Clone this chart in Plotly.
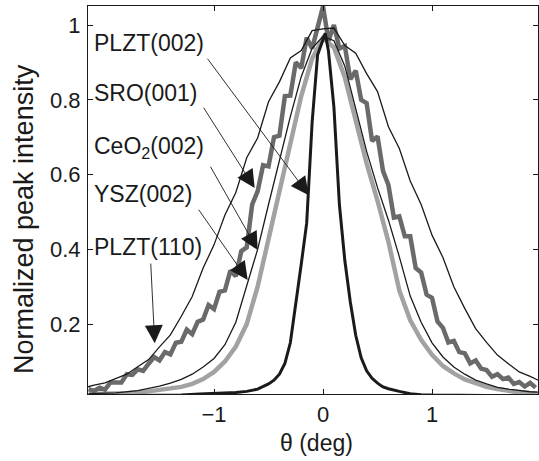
import plotly.graph_objects as go

# ---------------- data ----------------
theta_plzt110 = [-2.16, -2.1, -2.0, -1.9, -1.8, -1.7, -1.6, -1.5, -1.4, -1.3, -1.2, -1.1,
                 -1.0, -0.9, -0.8, -0.7, -0.6, -0.5, -0.4, -0.3, -0.2, -0.1, 0.0, 0.1,
                 0.2, 0.3, 0.4, 0.5, 0.6, 0.7, 0.8, 0.9, 1.0, 1.1, 1.2, 1.3, 1.4, 1.5,
                 1.6, 1.7, 1.8, 1.9, 1.98]
int_plzt110 = [0.032, 0.037, 0.043, 0.055, 0.066, 0.086, 0.105, 0.139, 0.171, 0.221, 0.274, 0.350,
               0.412, 0.492, 0.552, 0.645, 0.698, 0.795, 0.848, 0.912, 0.932, 0.985, 0.990, 0.992,
               0.945, 0.925, 0.870, 0.822, 0.728, 0.670, 0.583, 0.520, 0.438, 0.378, 0.300, 0.242,
               0.188, 0.151, 0.117, 0.094, 0.072, 0.060, 0.049]

theta_sro = [-2.15, -2.10, -2.05, -2.00, -1.95, -1.90, -1.85, -1.80, -1.75, -1.70, -1.65, -1.60,
             -1.55, -1.50, -1.45, -1.40, -1.35, -1.30, -1.25, -1.20, -1.15, -1.10, -1.05, -1.00,
             -0.95, -0.90, -0.85, -0.80, -0.75, -0.70, -0.65, -0.60, -0.55, -0.50, -0.45, -0.40,
             -0.35, -0.30, -0.25, -0.20, -0.15, -0.10, -0.05, 0.00, 0.05, 0.10, 0.15, 0.20,
             0.25, 0.30, 0.35, 0.40, 0.45, 0.50, 0.55, 0.60, 0.65, 0.70, 0.75, 0.80,
             0.85, 0.90, 0.95, 1.00, 1.05, 1.10, 1.15, 1.20, 1.25, 1.30, 1.35, 1.40,
             1.45, 1.50, 1.55, 1.60, 1.65, 1.70, 1.75, 1.80, 1.85, 1.90, 1.95]
int_sro = [0.026, 0.021, 0.030, 0.025, 0.044, 0.043, 0.044, 0.066, 0.064, 0.079, 0.075, 0.094,
           0.112, 0.103, 0.125, 0.119, 0.150, 0.153, 0.185, 0.173, 0.206, 0.212, 0.251, 0.240,
           0.286, 0.290, 0.343, 0.328, 0.395, 0.405, 0.520, 0.555, 0.625, 0.622, 0.700, 0.704,
           0.810, 0.811, 0.900, 0.885, 0.966, 0.937, 0.995, 1.050, 0.958, 1.000, 0.937, 0.944,
           0.855, 0.878, 0.800, 0.791, 0.690, 0.702, 0.610, 0.572, 0.485, 0.488, 0.435, 0.435,
           0.350, 0.338, 0.279, 0.270, 0.207, 0.190, 0.151, 0.155, 0.125, 0.122, 0.095, 0.103,
           0.081, 0.077, 0.059, 0.066, 0.053, 0.057, 0.040, 0.045, 0.033, 0.043, 0.030]

theta_ceo2 = [-2.15, -1.9, -1.7, -1.6, -1.5, -1.4, -1.3, -1.2, -1.1, -1.0, -0.9, -0.8,
              -0.7, -0.6, -0.5, -0.4, -0.3, -0.2, -0.1, 0.0, 0.1, 0.2, 0.3, 0.4,
              0.5, 0.6, 0.7, 0.8, 0.9, 1.0, 1.1, 1.2, 1.3, 1.4, 1.5, 1.6,
              1.7, 1.8, 1.9, 1.97]
int_ceo2 = [0.014, 0.016, 0.022, 0.027, 0.034, 0.042, 0.052, 0.066, 0.085, 0.108, 0.145, 0.205,
            0.300, 0.400, 0.520, 0.640, 0.755, 0.862, 0.938, 0.970, 0.958, 0.890, 0.772, 0.662,
            0.565, 0.478, 0.380, 0.275, 0.205, 0.150, 0.112, 0.085, 0.066, 0.050, 0.040, 0.031,
            0.026, 0.022, 0.019, 0.018]

theta_ysz = [-2.15, -1.9, -1.8, -1.6, -1.5, -1.4, -1.3, -1.2, -1.1, -1.0, -0.9, -0.8,
             -0.7, -0.6, -0.5, -0.4, -0.3, -0.2, -0.1, 0.0, 0.1, 0.2, 0.3, 0.4,
             0.5, 0.6, 0.7, 0.8, 0.9, 1.0, 1.1, 1.2, 1.3, 1.4, 1.5, 1.6,
             1.7, 1.8, 1.9, 1.97]
int_ysz = [0.013, 0.013, 0.015, 0.020, 0.023, 0.027, 0.032, 0.040, 0.053, 0.072, 0.100, 0.140,
           0.200, 0.300, 0.430, 0.550, 0.680, 0.810, 0.910, 0.965, 0.940, 0.860, 0.745, 0.630,
           0.530, 0.420, 0.290, 0.210, 0.158, 0.118, 0.088, 0.068, 0.052, 0.041, 0.032, 0.026,
           0.021, 0.017, 0.015, 0.014]

theta_plzt002 = [-2.15, -1.3, -1.13, -1.0, -0.8, -0.7, -0.6, -0.5, -0.45, -0.4, -0.35, -0.3,
                 -0.25, -0.2, -0.15, -0.1, -0.05, 0.0, 0.02, 0.05, 0.1, 0.15, 0.2, 0.25,
                 0.3, 0.35, 0.4, 0.45, 0.5, 0.55, 0.6, 0.7, 0.8, 0.9, 1.0, 1.97]
int_plzt002 = [0.008, 0.010, 0.013, 0.014, 0.017, 0.020, 0.026, 0.040, 0.050, 0.066, 0.095, 0.150,
               0.250, 0.360, 0.470, 0.740, 0.920, 0.960, 0.978, 0.930, 0.780, 0.520, 0.370, 0.260,
               0.170, 0.110, 0.075, 0.055, 0.042, 0.032, 0.027, 0.020, 0.014, 0.011, 0.010, 0.008]

x_ticks = [-1, 0, 1]
x_tick_labels = ["\u22121", "0", "1"]
y_ticks = [0.2, 0.4, 0.6, 0.8, 1.0]
y_tick_labels = ["0.2", "0.4", "0.6", "0.8", "1"]

# ---------------- figure ----------------
FONT = "Liberation Sans, Arial, Helvetica, sans-serif"
INK = "#1a1a1a"

fig = go.Figure()
fig.add_trace(go.Scatter(x=theta_ysz, y=int_ysz, mode="lines", name="YSZ(002)",
                         line=dict(color="#a2a2a2", width=4.5)))
fig.add_trace(go.Scatter(x=theta_sro, y=int_sro, mode="lines", name="SRO(001)",
                         line=dict(color="#6a6a6a", width=4.5)))
fig.add_trace(go.Scatter(x=theta_plzt110, y=int_plzt110, mode="lines", name="PLZT(110)",
                         line=dict(color=INK, width=1.3)))
fig.add_trace(go.Scatter(x=theta_ceo2, y=int_ceo2, mode="lines", name="CeO2(002)",
                         line=dict(color=INK, width=1.3)))
fig.add_trace(go.Scatter(x=theta_plzt002, y=int_plzt002, mode="lines", name="PLZT(002)",
                         line=dict(color=INK, width=3)))

# labels
labels = [
    ("PLZT(002)", 0.951),
    ("SRO(001)", 0.819),
    ("CeO<sub>2</sub>(002)", 0.672),
    ("YSZ(002)", 0.548),
    ("PLZT(110)", 0.405),
]
for txt, yy in labels:
    fig.add_annotation(x=-2.115, y=yy, xref="x", yref="y", text=txt, showarrow=False,
                       xanchor="left", yanchor="middle",
                       font=dict(family=FONT, size=23, color=INK))

# arrows: (tail_x, tail_y, head_x, head_y)
arrows = [
    (-1.07, 0.914, -0.131, 0.545),
    (-1.104, 0.783, -0.627, 0.564),
    (-1.04, 0.625, -0.599, 0.398),
    (-1.15, 0.51, -0.691, 0.318),
    (-1.581, 0.366, -1.544, 0.149),
]
for tx, ty, hx, hy in arrows:
    fig.add_annotation(x=hx, y=hy, ax=tx, ay=ty, xref="x", yref="y", axref="x", ayref="y",
                       text="", showarrow=True, arrowhead=2, arrowsize=4,
                       arrowwidth=0.9, arrowcolor=INK, standoff=0, startstandoff=0)

# axis titles as annotations
fig.add_annotation(x=(316.5 - 88) / 450, y=(394 - 443) / 388, xref="paper", yref="paper",
                   text="\u03b8 (deg)", showarrow=False, xanchor="center", yanchor="middle",
                   font=dict(family=FONT, size=23, color=INK))
fig.add_annotation(x=(24 - 88) / 450, y=(394 - 219) / 388, xref="paper", yref="paper",
                   text="Normalized peak intensity", showarrow=False, textangle=-90,
                   xanchor="center", yanchor="middle",
                   font=dict(family=FONT, size=27, color=INK))

axis_common = dict(showgrid=False, zeroline=False, showline=True, linecolor=INK, linewidth=1.2,
                   mirror="ticks", ticks="inside", ticklen=5, tickwidth=1, tickcolor=INK,
                   tickfont=dict(family=FONT, size=22, color=INK))

fig.update_xaxes(range=[-2.156, 1.972], tickvals=x_ticks, ticktext=x_tick_labels,
                 ticklabelstandoff=0, **axis_common)
fig.update_yaxes(range=[0.013, 1.051], tickvals=y_ticks, ticktext=y_tick_labels,
                 ticklabelstandoff=2, **axis_common)

fig.update_layout(width=539, height=461, margin=dict(l=88, r=1, t=6, b=67),
                  plot_bgcolor="white", paper_bgcolor="white", showlegend=False,
                  font=dict(family=FONT, color=INK))

fig.write_html("out.html", config={"displayModeBar": False},
               post_script="document.body.style.margin='0';document.body.style.overflow='hidden';")
